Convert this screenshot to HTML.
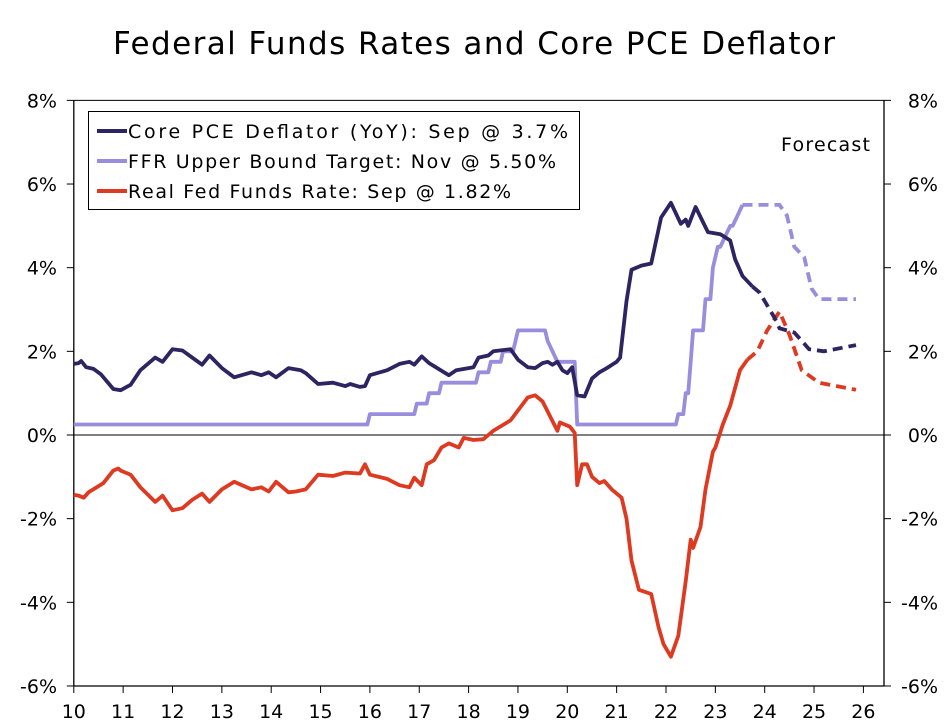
<!DOCTYPE html>
<html><head><meta charset="utf-8"><style>
body{margin:0;background:#fff}
svg{display:block;font-family:"DejaVu Sans","Liberation Sans",sans-serif}
</style></head><body>
<svg id="chart" width="949" height="727" viewBox="0 0 949 727" xmlns="http://www.w3.org/2000/svg">
<text x="474" y="54" text-anchor="middle" font-size="31" textLength="722" fill="#000">Federal Funds Rates and Core PCE Deflator</text>
<g id="axes"></g>
<g id="series"></g>
<g>
<rect x="88.5" y="111.5" width="491" height="98" fill="#fff" stroke="#000" stroke-width="1"/>
<g><line x1="97" y1="131" x2="127" y2="131" stroke="#2e2462" stroke-width="4"/><text x="128" y="138" font-size="19" textLength="440">Core PCE Deflator (YoY): Sep @ 3.7%</text></g>
<g><line x1="97" y1="161" x2="127" y2="161" stroke="#9b8dde" stroke-width="4"/><text x="128" y="168" font-size="19" textLength="428">FFR Upper Bound Target: Nov @ 5.50%</text></g>
<g><line x1="97" y1="191" x2="127" y2="191" stroke="#de3a22" stroke-width="4"/><text x="128" y="198" font-size="19" textLength="383">Real Fed Funds Rate: Sep @ 1.82%</text></g>
</g>
<text x="870" y="151" text-anchor="end" font-size="19" textLength="89">Forecast</text>
</svg>
<script>
const yTicks=[8,6,4,2,0,-2,-4,-6];
const xTickYears=[2010,2011,2012,2013,2014,2015,2016,2017,2018,2019,2020,2021,2022,2023,2024,2025,2026];
const forecastStart=2023.8;
const coreYears=[2010.0,2010.1,2010.15,2010.25,2010.4,2010.55,2010.8,2010.95,2011.15,2011.35,2011.65,2011.8,2012.0,2012.2,2012.4,2012.6,2012.75,2013.0,2013.25,2013.6,2013.8,2013.95,2014.1,2014.35,2014.6,2014.7,2014.95,2015.25,2015.5,2015.6,2015.8,2015.9,2016.0,2016.35,2016.6,2016.8,2016.9,2017.05,2017.2,2017.6,2017.75,2018.0,2018.1,2018.2,2018.4,2018.5,2018.85,2019.0,2019.2,2019.35,2019.5,2019.6,2019.7,2019.8,2019.9,2020.0,2020.1,2020.2,2020.35,2020.5,2020.65,2020.8,2021.0,2021.07,2021.2,2021.3,2021.5,2021.7,2021.9,2022.1,2022.3,2022.4,2022.45,2022.6,2022.85,2023.1,2023.3,2023.4,2023.55,2023.75,2023.9,2024.2,2024.3,2024.6,2024.9,2025.2,2025.85];
const coreVals=[1.7,1.72,1.77,1.62,1.58,1.45,1.1,1.07,1.2,1.55,1.85,1.75,2.05,2.02,1.85,1.68,1.9,1.6,1.38,1.5,1.43,1.5,1.38,1.6,1.55,1.48,1.22,1.25,1.17,1.22,1.15,1.17,1.43,1.55,1.7,1.75,1.68,1.88,1.72,1.43,1.55,1.6,1.62,1.85,1.9,2.0,2.05,1.8,1.62,1.6,1.72,1.75,1.68,1.75,1.55,1.48,1.62,0.95,0.92,1.35,1.5,1.6,1.75,1.85,3.2,3.95,4.05,4.1,5.2,5.55,5.05,5.15,5.0,5.45,4.85,4.8,4.65,4.2,3.8,3.55,3.4,2.8,2.55,2.45,2.05,2.0,2.15];
const ffrYears=[2010.0,2015.95,2016.0,2016.9,2016.95,2017.15,2017.2,2017.4,2017.45,2018.15,2018.2,2018.4,2018.45,2018.65,2018.7,2018.9,2018.95,2019.0,2019.55,2019.6,2019.7,2019.8,2019.85,2020.15,2020.2,2022.2,2022.25,2022.35,2022.4,2022.45,2022.5,2022.55,2022.75,2022.8,2022.9,2022.95,2023.05,2023.1,2023.2,2023.3,2023.35,2023.45,2023.55,2024.3,2024.45,2024.6,2024.8,2024.95,2025.1,2025.85];
const ffrVals=[0.25,0.25,0.5,0.5,0.75,0.75,1.0,1.0,1.25,1.25,1.5,1.5,1.75,1.75,2.0,2.0,2.25,2.5,2.5,2.25,2.0,1.75,1.75,1.75,0.25,0.25,0.5,0.5,1.0,1.0,1.75,2.5,2.5,3.25,3.25,4.0,4.5,4.5,4.75,5.0,5.0,5.25,5.5,5.5,5.25,4.5,4.25,3.5,3.25,3.25];
const realYears=[2010.0,2010.1,2010.2,2010.3,2010.6,2010.8,2010.9,2010.95,2011.15,2011.35,2011.65,2011.8,2012.0,2012.2,2012.4,2012.6,2012.75,2013.0,2013.25,2013.6,2013.8,2013.95,2014.1,2014.35,2014.5,2014.7,2014.95,2015.25,2015.5,2015.8,2015.9,2016.0,2016.35,2016.6,2016.8,2016.9,2017.05,2017.15,2017.3,2017.45,2017.6,2017.8,2017.9,2018.1,2018.3,2018.5,2018.85,2019.2,2019.35,2019.5,2019.8,2019.85,2020.05,2020.15,2020.2,2020.3,2020.4,2020.5,2020.65,2020.75,2020.9,2021.1,2021.2,2021.3,2021.45,2021.7,2021.85,2021.95,2022.1,2022.25,2022.4,2022.5,2022.55,2022.7,2022.8,2022.95,2023.0,2023.15,2023.3,2023.5,2023.65,2023.85,2024.05,2024.3,2024.5,2024.75,2025.1,2025.85];
const realVals=[-1.43,-1.45,-1.5,-1.37,-1.15,-0.85,-0.8,-0.85,-0.95,-1.25,-1.6,-1.45,-1.8,-1.75,-1.55,-1.4,-1.6,-1.3,-1.12,-1.3,-1.25,-1.35,-1.12,-1.37,-1.35,-1.3,-0.95,-0.98,-0.9,-0.92,-0.7,-0.95,-1.05,-1.2,-1.25,-1.02,-1.2,-0.7,-0.6,-0.3,-0.2,-0.3,-0.07,-0.12,-0.1,0.1,0.35,0.9,0.95,0.8,0.1,0.3,0.2,0.05,-1.2,-0.7,-0.7,-1.0,-1.15,-1.1,-1.3,-1.5,-2.0,-3.0,-3.7,-3.8,-4.6,-5.0,-5.3,-4.8,-3.5,-2.5,-2.7,-2.2,-1.3,-0.4,-0.3,0.25,0.7,1.55,1.8,2.0,2.5,2.95,2.4,1.55,1.25,1.08];

const NS="http://www.w3.org/2000/svg";
const X0=73.8,PX=49.35,Y0=435,PY=41.83,R=884;
function xs(t){return X0+(t-2010)*PX;}
function ys(v){return Y0-v*PY;}
const axes=document.getElementById('axes');
const ser=document.getElementById('series');
function mk(tag,attrs,parent){const e=document.createElementNS(NS,tag);for(const k in attrs)e.setAttribute(k,attrs[k]);parent.appendChild(e);return e;}
let f=mk('line',{x1:X0,y1:ys(8),x2:R,y2:ys(8),stroke:'#000','stroke-width':1},axes);


f=mk('line',{x1:X0,y1:ys(8),x2:X0,y2:ys(-6),stroke:'#000','stroke-width':1.3},axes);


f=mk('line',{x1:R,y1:ys(8),x2:R,y2:ys(-6),stroke:'#000','stroke-width':1.3},axes);


f=mk('line',{x1:X0,y1:ys(-6),x2:R,y2:ys(-6),stroke:'#000','stroke-width':1.3},axes);


f=mk('line',{x1:X0,y1:ys(0),x2:R,y2:ys(0),stroke:'#000','stroke-width':1},axes);


yTicks.forEach(v=>{
  const y=ys(v);
  mk('line',{x1:X0-7,y1:y,x2:X0,y2:y,stroke:'#000'},axes);
  mk('line',{x1:R,y1:y,x2:R+7,y2:y,stroke:'#000'},axes);
  let t=mk('text',{x:57,y:y+7,'text-anchor':'end','font-size':19},axes);
  t.textContent=v+'%';
  
  
  t=mk('text',{x:938,y:y+7,'text-anchor':'end','font-size':19},axes);
  t.textContent=v+'%';
  
  
});
xTickYears.forEach(yr=>{
  const x=xs(yr);
  mk('line',{x1:x,y1:ys(-6),x2:x,y2:ys(-6)+7,stroke:'#000'},axes);
  const t=mk('text',{x:x,y:718,'text-anchor':'middle','font-size':19},axes);
  t.textContent=String(yr%100).padStart(2,'0');
  
  
});
function draw(years,vals,color,name){
  const solid=[],dash=[];
  years.forEach((t,i)=>{const p=xs(t).toFixed(1)+','+ys(vals[i]).toFixed(1);
    if(t<=forecastStart)solid.push(p);
    if(t>=forecastStart||(i+1<years.length&&years[i+1]>forecastStart&&t<forecastStart))dash.push(p);});
  let p=mk('polyline',{points:solid.join(' '),fill:'none',stroke:color,'stroke-width':3.8,'stroke-linejoin':'round'},ser);
  
  
  p=mk('polyline',{points:dash.join(' '),fill:'none',stroke:color,'stroke-width':3.8,'stroke-dasharray':'10,6'},ser);
  
  
}
draw(ffrYears,ffrVals,'#9b8dde','ffr-upper-bound');
draw(realYears,realVals,'#de3a22','real-fed-funds');
draw(coreYears,coreVals,'#2e2462','core-pce');
</script>
</body></html>
